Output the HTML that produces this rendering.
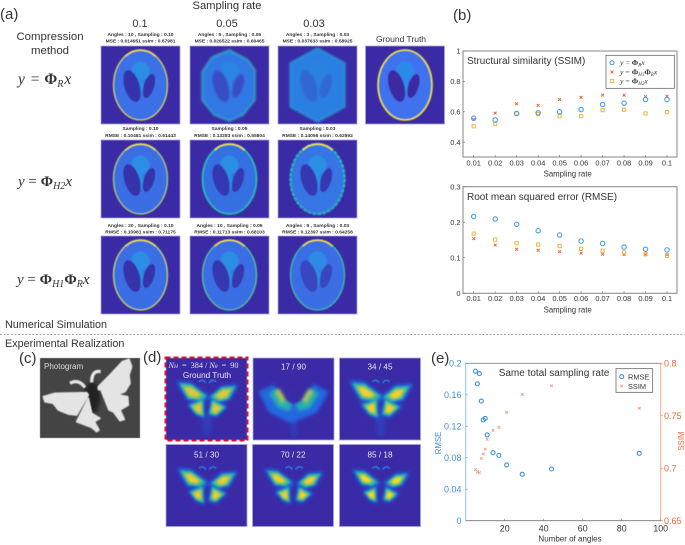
<!DOCTYPE html>
<html>
<head>
<meta charset="utf-8">
<style>
html,body{margin:0;padding:0;background:#fff}
#fig{display:block;filter:blur(.35px)}
text{font-family:"Liberation Sans",sans-serif;fill:#333}
.m{font-family:"Liberation Serif",serif;fill:#333}
</style>
</head>
<body>
<svg id="fig" xmlns="http://www.w3.org/2000/svg" width="685" height="545" viewBox="0 0 685 545">
<defs>
<filter id="b06" x="-30%" y="-30%" width="160%" height="160%"><feGaussianBlur stdDeviation="0.6"/></filter>
<filter id="b1" x="-40%" y="-40%" width="180%" height="180%"><feGaussianBlur stdDeviation="1"/></filter>
<filter id="b2" x="-50%" y="-50%" width="200%" height="200%"><feGaussianBlur stdDeviation="1.8"/></filter>
<filter id="b3" x="-60%" y="-60%" width="220%" height="220%"><feGaussianBlur stdDeviation="2.8"/></filter>
</defs>

<text x="0" y="19" font-size="15">(a)</text>
<text x="453" y="20" font-size="15">(b)</text>
<text x="19" y="363" font-size="15">(c)</text>
<text x="143" y="362" font-size="15">(d)</text>
<text x="431" y="363" font-size="15">(e)</text>

<text x="227" y="9" font-size="11.2" text-anchor="middle">Sampling rate</text>
<text x="140" y="27" font-size="11" text-anchor="middle">0.1</text>
<text x="227" y="27" font-size="11" text-anchor="middle">0.05</text>
<text x="314" y="27" font-size="11" text-anchor="middle">0.03</text>
<text x="50" y="40" font-size="11.4" text-anchor="middle">Compression</text>
<text x="50" y="54" font-size="11.4" text-anchor="middle">method</text>
<text x="401" y="42" font-size="8.5" text-anchor="middle">Ground Truth</text>

<text class="m" x="18" y="84" font-size="15.5"><tspan font-style="italic">y</tspan><tspan dx="2"> = </tspan><tspan dx="1" font-weight="bold">Φ</tspan><tspan font-size="10" dy="3" font-style="italic">R</tspan><tspan dx="1" dy="-3" font-style="italic">x</tspan></text>
<text class="m" x="18" y="186" font-size="15"><tspan font-style="italic">y</tspan> =  <tspan font-weight="bold">Φ</tspan><tspan font-size="10" dy="3" font-style="italic">H2</tspan><tspan dy="-3" font-style="italic">x</tspan></text>
<text class="m" x="17" y="284" font-size="15"><tspan font-style="italic">y</tspan> = <tspan font-weight="bold">Φ</tspan><tspan font-size="10" dy="3" font-style="italic">H1</tspan><tspan dy="-3" font-weight="bold">Φ</tspan><tspan font-size="10" dy="3" font-style="italic">R</tspan><tspan dy="-3" font-style="italic">x</tspan></text>

<g id="phantoms"></g>

<text x="5" y="328" font-size="10.8">Numerical Simulation</text>
<line x1="0" y1="334.5" x2="685" y2="334.5" stroke="#888" stroke-width="0.8" stroke-dasharray="2 1.6"/>
<text x="5" y="347" font-size="10.8">Experimental Realization</text>

<g>
  <rect x="40" y="358" width="100" height="80" fill="#444" stroke="#aaa" stroke-width="0.5"/>
  <ellipse cx="92" cy="398" rx="8" ry="16" fill="#222" filter="url(#b2)"/>
  <g transform="translate(35 350) scale(.3333)" fill="#e4e4e4" stroke="#e4e4e4" stroke-width="5" stroke-linejoin="round" filter="url(#b2)">
    <path d="M190 110L225 75 262 35 282 28 290 50 282 75 285 100 270 125 245 135 190 118Z"/>
    <path d="M200 125L278 140 280 165 255 180 268 208 255 212 235 185 222 180 210 150Z"/>
    <path d="M25 140L60 130 155 128 160 135 125 195 100 192 70 180 55 160 30 155Z"/>
    <path d="M160 145L125 215 170 232 185 245 192 240 178 215 195 205 170 190Z"/>
    <path d="M105 100Q130 85 150 112" fill="none" stroke-width="10"/>
    <path d="M170 97Q170 60 197 65" fill="none" stroke-width="10"/>
  </g>
  <text x="44" y="369" font-size="8" style="fill:#ddd">Photogram</text>
</g>

<g id="butterflies"></g>
<rect x="165.5" y="357.5" width="82" height="83" fill="none" stroke="#e2122e" stroke-width="2" stroke-dasharray="5 3"/>

<g id="chartB1"></g>
<g id="chartB2"></g>
<g id="chartE"></g>
</svg>

<script>
// ---------- chart data ----------
const rateLabels = ['0.01','0.02','0.03','0.04','0.05','0.06','0.07','0.08','0.09','0.1'];
const ssimPhiR  = [0.558,0.547,0.589,0.593,0.600,0.615,0.648,0.657,0.681,0.681];
const ssimPhiH1 = [0.550,0.591,0.653,0.642,0.681,0.695,0.710,0.710,0.700,0.703];
const ssimPhiH2 = [0.505,0.520,0.589,0.585,0.571,0.571,0.611,0.613,0.589,0.598];
const rmsePhiR  = [0.216,0.209,0.194,0.176,0.164,0.147,0.140,0.130,0.124,0.122];
const rmsePhiH1 = [0.154,0.136,0.124,0.121,0.117,0.113,0.110,0.109,0.109,0.109];
const rmsePhiH2 = [0.168,0.151,0.141,0.137,0.133,0.125,0.120,0.115,0.110,0.105];
const ssimTicks = [0.4,0.6,0.8,1];
const rmseTicks = [0,0.1,0.2,0.3];
const angleCounts = [5,6,7,8,9,10,11,14,17,21,29,44,89];
const angleRmse = [0.190,0.174,0.187,0.152,0.128,0.130,0.109,0.0864,0.083,0.0708,0.0589,0.0657,0.0856];
const angleSsim = [0.6986,0.6967,0.6958,0.7094,0.7136,0.7183,0.7275,0.7361,0.739,0.7533,0.7704,0.7787,0.7571];
const angleTicks = [20,40,60,80,100];
const angleRmseTicks = [0,0.04,0.08,0.12,0.16,0.2];
const angleSsimTicks = [0.65,0.7,0.75,0.8];

const NS = 'http://www.w3.org/2000/svg';
const BLUE = '#4a9ee0', RED = '#e8664a', YEL = '#f0b840';

function mk(parent, tag, attrs, text) {
  const e = document.createElementNS(NS, tag);
  for (const k in attrs) e.setAttribute(k, attrs[k]);
  if (text !== undefined) e.textContent = text;
  parent.appendChild(e);
  return e;
}
function named(e, name) {
  
  
  return e;
}
function circle(p, x, y, r, c, name) {
  return named(mk(p, 'circle', {cx:x, cy:y, r:r, fill:'none', stroke:c, 'stroke-width':1.1}), name);
}
function cross(p, x, y, s, c, name) {
  return named(mk(p, 'path', {d:`M${x-s} ${y-s}L${x+s} ${y+s}M${x-s} ${y+s}L${x+s} ${y-s}`, stroke:c, 'stroke-width':1, fill:'none'}), name);
}
function square(p, x, y, s, c, name) {
  return named(mk(p, 'rect', {x:x-s, y:y-s, width:2*s, height:2*s, fill:'none', stroke:c, 'stroke-width':1}), name);
}

// ---------- panel (b) charts ----------
function rateX(i) { return 473.7 + i * 21.48; }
function plotRates(id, yFn, top, bottom, ticks, fmt, title, titleY, xTitleY, labelY, series) {
  const g = document.getElementById(id);
  named(mk(g, 'rect', {x:463, y:top, width:214, height:bottom-top, fill:'none', stroke:'#858585', 'stroke-width':1}), id + '-frame');
  named(mk(g, 'text', {x:467, y:titleY, 'font-size':10}, title), id + '-title');
  ticks.forEach(t => {
    named(mk(g, 'line', {x1:463, x2:465, y1:yFn(t), y2:yFn(t), stroke:'#666', 'stroke-width':.6}), 'y-tick');
    named(mk(g, 'text', {x:460.5, y:yFn(t)+2.7, 'font-size':7.4, 'text-anchor':'end'}, fmt(t)), 'y-tick-label');
  });
  rateLabels.forEach((t, i) => {
    named(mk(g, 'line', {x1:rateX(i), x2:rateX(i), y1:bottom, y2:bottom-2, stroke:'#666', 'stroke-width':.6}), 'x-tick');
    named(mk(g, 'text', {x:rateX(i), y:labelY, 'font-size':7.4, 'text-anchor':'middle'}, t), 'x-tick-label');
  });
  named(mk(g, 'text', {x:567.7, y:xTitleY, 'font-size':7.8, 'text-anchor':'middle'}, 'Sampling rate'), 'x-axis-title');
  series.h1.forEach((v, i) => cross(g, rateX(i), yFn(v), 1.4, RED, 'point-phi-h1'));
  series.h2.forEach((v, i) => square(g, rateX(i), yFn(v), 1.6, YEL, 'point-phi-h2'));
  series.r.forEach((v, i) => circle(g, rateX(i), yFn(v), 2.2, BLUE, 'point-phi-r'));
  return g;
}
function ssimY(v) { return 51 + (1 - v) * 152; }
function rmseY(v) { return 293.3 - v / 0.3 * 106.6; }
const gB1 = plotRates('chartB1', ssimY, 51, 157, ssimTicks, t => String(t), 'Structural similarity (SSIM)', 64, 176.7, 165.7,
  {r:ssimPhiR, h1:ssimPhiH1, h2:ssimPhiH2});
plotRates('chartB2', rmseY, 186.7, 293.3, rmseTicks, t => String(t), 'Root mean squared error (RMSE)', 200, 312.3, 301,
  {r:rmsePhiR, h1:rmsePhiH1, h2:rmsePhiH2});

const lgB = named(mk(gB1, 'g', {}), 'ssim-legend');
mk(lgB, 'rect', {x:606, y:55.3, width:68.3, height:33, fill:'#fff', stroke:'#555', 'stroke-width':.7});
circle(lgB, 612, 62.7, 2, BLUE, 'legend-marker-phi-r');
cross(lgB, 612, 72, 1.4, RED, 'legend-marker-phi-h1');
square(lgB, 612, 81, 1.6, YEL, 'legend-marker-phi-h2');
function legendMath(y, parts, name) {
  const t = named(mk(lgB, 'text', {x:620, y:y, 'font-size':7.8, class:'m'}), name);
  parts.forEach(p => {
    const s = mk(t, 'tspan', p.a || {}, p.t);
    if (p.b) s.setAttribute('font-weight', 'bold');
  });
}
legendMath(65, [{t:'y',a:{'font-style':'italic'}},{t:' = '},{t:'Φ',b:1},{t:'R',a:{'font-size':5,dy:1.5,'font-style':'italic'}},{t:'x',a:{dy:-1.5,'font-style':'italic'}}], 'legend-label-phi-r');
legendMath(74.5, [{t:'y',a:{'font-style':'italic'}},{t:' = '},{t:'Φ',b:1},{t:'H1',a:{'font-size':5,dy:1.5,'font-style':'italic'}},{t:'Φ',b:1,a:{dy:-1.5}},{t:'R',a:{'font-size':5,dy:1.5,'font-style':'italic'}},{t:'x',a:{dy:-1.5,'font-style':'italic'}}], 'legend-label-phi-h1');
legendMath(83.5, [{t:'y',a:{'font-style':'italic'}},{t:' =  '},{t:'Φ',b:1},{t:'H2',a:{'font-size':5,dy:1.5,'font-style':'italic'}},{t:'x',a:{dy:-1.5,'font-style':'italic'}}], 'legend-label-phi-h2');

// ---------- panel (e) chart ----------
function angX(v) { return 465.7 + v * 1.95; }
function angY(v) { return 520.7 - v / 0.2 * 157.4; }
function angY2(v) { return 520.7 - (v - 0.65) / 0.15 * 157.4; }
const gE = document.getElementById('chartE');
const BL2 = '#3f8fd8', OR2 = '#ea6a38';
named(mk(gE, 'line', {x1:465.7, x2:660.7, y1:363.3, y2:363.3, stroke:'#888', 'stroke-width':.8}), 'top-axis');
named(mk(gE, 'line', {x1:465.7, x2:660.7, y1:520.7, y2:520.7, stroke:'#777', 'stroke-width':.8}), 'x-axis');
named(mk(gE, 'line', {x1:465.7, x2:465.7, y1:363.3, y2:520.7, stroke:'#8fc1ea', 'stroke-width':1}), 'left-axis');
named(mk(gE, 'line', {x1:660.7, x2:660.7, y1:363.3, y2:520.7, stroke:'#f2a98a', 'stroke-width':1}), 'right-axis');
angleTicks.forEach(t => {
  named(mk(gE, 'line', {x1:angX(t), x2:angX(t), y1:520.7, y2:518.7, stroke:'#777', 'stroke-width':.6}), 'x-tick');
  named(mk(gE, 'text', {x:angX(t), y:531.7, 'font-size':8.8, 'text-anchor':'middle'}, String(t)), 'x-tick-label');
});
angleRmseTicks.forEach(t => {
  named(mk(gE, 'line', {x1:465.7, x2:467.7, y1:angY(t), y2:angY(t), stroke:BL2, 'stroke-width':.6}), 'rmse-tick');
  named(mk(gE, 'text', {x:461.5, y:angY(t)+3.1, 'font-size':9, 'text-anchor':'end', style:'fill:'+BL2}, String(t)), 'rmse-tick-label');
});
angleSsimTicks.forEach(t => {
  named(mk(gE, 'line', {x1:660.7, x2:662.7, y1:angY2(t), y2:angY2(t), stroke:OR2, 'stroke-width':.6}), 'ssim-tick');
  named(mk(gE, 'text', {x:664, y:angY2(t)+3.1, 'font-size':9, style:'fill:'+OR2}, String(t)), 'ssim-tick-label');
});
named(mk(gE, 'text', {x:570, y:541.7, 'font-size':8, 'text-anchor':'middle'}, 'Number  of angles'), 'x-axis-title');
named(mk(gE, 'text', {x:0, y:0, 'font-size':7.8, 'text-anchor':'middle', transform:'translate(441 443) rotate(-90)', style:'fill:'+BL2}, 'RMSE'), 'rmse-axis-title');
named(mk(gE, 'text', {x:0, y:0, 'font-size':7.8, 'text-anchor':'middle', transform:'translate(684 441) rotate(-90)', style:'fill:'+OR2}, 'SSIM'), 'ssim-axis-title');
named(mk(gE, 'text', {x:554, y:376, 'font-size':10, 'text-anchor':'middle'}, 'Same total sampling rate'), 'angles-chart-title');
angleCounts.forEach((a, i) => {
  cross(gE, angX(a), angY2(angleSsim[i]), 1.3, '#f2a58c', 'point-ssim');
  circle(gE, angX(a), angY(angleRmse[i]), 2, BL2, 'point-rmse');
});
const lgE = named(mk(gE, 'g', {}), 'angles-legend');
mk(lgE, 'rect', {x:616, y:368.7, width:36.7, height:23.6, fill:'#fff', stroke:'#555', 'stroke-width':.7});
circle(lgE, 621.7, 376.7, 2, BL2, 'legend-marker-rmse');
cross(lgE, 621.7, 386, 1.3, '#f2a58c', 'legend-marker-ssim');
named(mk(lgE, 'text', {x:628, y:379.5, 'font-size':7.4}, 'RMSE'), 'legend-label-rmse');
named(mk(lgE, 'text', {x:628, y:389, 'font-size':7.4}, 'SSIM'), 'legend-label-ssim');

// ---------- panel (a) phantoms ----------
const BG = '#3a2aa6';
const gP = document.getElementById('phantoms');
const cellCols = [101, 190, 278];
const cellRows = [46, 140, 236];
const headers = [
  [['Angles : 10 , Sampling : 0.10','MSE : 0.014951  ssim : 0.67981'],['Angles : 5 , Sampling : 0.05','MSE : 0.026522  ssim : 0.60465'],['Angles : 3 , Sampling : 0.03','MSE : 0.037633  ssim : 0.58925']],
  [['Sampling : 0.10','RMSE : 0.10481  ssim : 0.61443'],['Sampling : 0.05','RMSE : 0.13283  ssim : 0.55804'],['Sampling : 0.03','RMSE : 0.14056  ssim : 0.62592']],
  [['Angles : 20 , Sampling : 0.10','RMSE : 0.10981  ssim : 0.71175'],['Angles : 10 , Sampling : 0.05','RMSE : 0.11713  ssim : 0.68103'],['Angles : 9 , Sampling : 0.03','RMSE : 0.12397  ssim : 0.64258']]
];
const headerBase = [[36,42.5],[130,137],[227,233.5]];
const OCT = '39.5,4 58,14 65,24 65,54 53,69 39.5,75 24,69 12,54 12,26 22,11';
const HEX = '39.5,2 67,17 67,61 39.5,76 12,61 12,17';

function phantom(x, y, o) {
  const w = o.w || 79, h = 78;
  const g = named(mk(gP, 'g', {transform:`translate(${x} ${y})`}), o.name);
  mk(g, 'rect', {x:0, y:0, width:w, height:h, fill:BG, stroke:'#a7a2e2', 'stroke-width':.8});
  const cx = w / 2, cy = 39;
  const blur = o.blur || 'b06';
  const inner = named(mk(g, 'g', {filter:`url(#${blur})`}), o.name + '-shape');
  if (o.poly) {
    mk(inner, 'polygon', {points:o.poly, fill:o.fill, stroke:o.stroke, 'stroke-width':o.sw || 1.3});
  } else {
    mk(inner, 'ellipse', {cx:cx, cy:cy, rx:27, ry:35, fill:o.fill, stroke:o.stroke, 'stroke-width':o.sw || 1.3, 'stroke-dasharray':o.dash || 'none'});
    if (o.top) mk(inner, 'path', {d:`M${cx-15} ${cy-29}A27 35 0 0 1 ${cx+15} ${cy-29}`, fill:'none', stroke:'#f0e030', 'stroke-width':1.6});
  }
  const blob = o.blobC, vent = o.vent;
  mk(inner, 'ellipse', {cx:cx, cy:cy-14, rx:9, ry:9.5, fill:blob, opacity:o.op || 1});
  mk(inner, 'ellipse', {cx:cx, cy:cy+2, rx:3, ry:9, fill:blob, opacity:o.op || 1});
  mk(inner, 'ellipse', {cx:cx-8.5, cy:cy+1, rx:o.vl || 7.6, ry:16.5, fill:vent, transform:`rotate(-17 ${cx-8.5} ${cy+1})`, opacity:o.op || 1});
  mk(inner, 'ellipse', {cx:cx+8.5, cy:cy+1, rx:o.vr || 5.2, ry:12.5, fill:vent, transform:`rotate(17 ${cx+8.5} ${cy+1})`, opacity:o.op || 1});
  return g;
}
const cfgs = [
  [{fill:'#3a70e6', stroke:'#c8d040', blobC:'#2c8ee4', vent:'#3532aa', top:true},
   {fill:'#3078e4', stroke:'#30b8b0', blobC:'#2a8ae4', vent:'#3a42bc', poly:OCT, blur:'b1', op:.8},
   {fill:'#2c80e2', stroke:'#28a8c8', blobC:'#2c84df', vent:'#3850c4', poly:HEX, blur:'b1', sw:1, op:.55}],
  [{fill:'#3a6ee4', stroke:'#a8c860', blobC:'#2c8ee4', vent:'#3532aa', top:true},
   {fill:'#3570e2', stroke:'#2cb8b0', blobC:'#2c8ee4', vent:'#3539b2', top:true, sw:1.8},
   {fill:'#3574e4', stroke:'#2cb0b8', blobC:'#2a90e4', vent:'#3539b2', top:true, sw:2.4, dash:'4 1'}],
  [{fill:'#3a6ee4', stroke:'#c0d050', blobC:'#2c8ee4', vent:'#3532aa', top:true},
   {fill:'#3a6ee4', stroke:'#58c090', blobC:'#2c8ee4', vent:'#3538b0', top:true},
   {fill:'#3a6ee4', stroke:'#40b8a0', blobC:'#2c8ee4', vent:'#3842ba', top:true, op:.9}]
];
cellRows.forEach((ry, r) => {
  cellCols.forEach((cx, c) => {
    const o = Object.assign({name:`phantom-r${r+1}-c${c+1}`}, cfgs[r][c]);
    phantom(cx, ry, o);
    const center = cx + 39.5;
    headers[r][c].forEach((line, k) => {
      const t = mk(gP, 'text', {x:center, y:headerBase[r][k], 'font-size':4.9, 'font-weight':'bold', 'text-anchor':'middle'}, line);
      named(t, 'phantom-caption');
    });
  });
});
phantom(365.5, 46, {name:'phantom-ground-truth', fill:'#4072f0', stroke:'#f0e418', sw:1.6, blobC:'#2a8ae8', vent:'#3a2ca2', w:79});

// ---------- panel (d) butterflies ----------
const gF = document.getElementById('butterflies');
const wings = [
  [[13,25],[25,26],[41,38],[35,43],[22,41],[17,33]],
  [[70,28],[56,29],[44,39],[52,44],[63,41]],
  [[37,41],[23,47],[30,56],[38,59]],
  [[46,41],[60,49],[50,58],[43,56]]
];
function scalePts(pts, s) {
  const cx = pts.reduce((a, p) => a + p[0], 0) / pts.length;
  const cy = pts.reduce((a, p) => a + p[1], 0) / pts.length;
  return pts.map(p => `${cx + (p[0]-cx)*s},${cy + (p[1]-cy)*s}`).join(' ');
}
function butterflyCell(x, y, label, o) {
  const g = named(mk(gF, 'g', {transform:`translate(${x} ${y})`}), o.name);
  mk(g, 'rect', {x:0, y:0, width:81, height:82, fill:BG, stroke:'#a7a2e2', 'stroke-width':.8});
  const layers = [[o.o, '#1f6ae2', 'b2'], [o.m, '#25b0b0', 'b1'], [(o.m + o.i) / 2, '#7cc070', 'b1'], [o.i, o.core, 'b1']];
  if (o.tail) {
    named(mk(g, 'ellipse', {cx:41, cy:67, rx:5, ry:12, fill:'#2c4cc4', opacity:.55, filter:'url(#b2)'}), o.name + '-tail');
  }
  layers.forEach(l => {
    wings.forEach(w => {
      mk(g, 'polygon', {points:scalePts(w, l[0]), fill:l[1], filter:`url(#${l[2]})`});
    });
  });
  mk(g, 'path', {d:'M33 24Q36 20 40 25M43 25Q47 20 50 24', fill:'none', stroke:'#2a80e0', 'stroke-width':1.4, filter:'url(#b06)'});
  if (label) named(mk(g, 'text', {x:40.5, y:o.ly || 11.5, 'font-size':8.2, 'text-anchor':'middle', style:'fill:#e6e6ee'}, label), o.name + '-label');
  return g;
}
const gt = butterflyCell(166, 358, null, {name:'butterfly-ground-truth', o:1.18, m:.98, i:.55, core:'#dcc83c', tail:true});
const tN = named(mk(gt, 'text', {x:2.5, y:10, 'font-size':8.2, class:'m', style:'fill:#e6e6ee'}), 'butterfly-ground-truth-label');
[['N','italic',8.2],['H','italic',5.4],['  =  384 / ','normal',8.2],['N','italic',8.2],['θ','italic',5.4],['  =  90','normal',8.2]].forEach(p => {
  const ts = mk(tN, 'tspan', {'font-style':p[1], 'font-size':p[2]}, p[0]);
  ts.style.whiteSpace = 'pre';
});
named(mk(gt, 'text', {x:41, y:20, 'font-size':8.2, 'text-anchor':'middle', style:'fill:#e6e6ee'}, 'Ground  Truth'), 'butterfly-ground-truth-subtitle');

// 17/90: broad U-shaped blur
(function () {
  const g = named(mk(gF, 'g', {transform:'translate(253 358)'}), 'butterfly-17-90');
  mk(g, 'rect', {x:0, y:0, width:81, height:82, fill:BG, stroke:'#a7a2e2', 'stroke-width':.8});
  mk(g, 'ellipse', {cx:41, cy:70, rx:3, ry:10, fill:'#2c50c8', opacity:.6, filter:'url(#b2)'});
  mk(g, 'path', {d:'M13 30L22 48 38 56 58 48 68 30', fill:'none', stroke:'#2268e0', 'stroke-width':17, filter:'url(#b2)', 'stroke-linejoin':'round'});
  mk(g, 'path', {d:'M20 33L28 46 38 49M62 33L54 46 44 49', fill:'none', stroke:'#26b0ae', 'stroke-width':9, filter:'url(#b2)'});
  mk(g, 'path', {d:'M24 32L31 44M58 32L51 44', fill:'none', stroke:'#b8c850', 'stroke-width':5, filter:'url(#b2)'});
  mk(g, 'ellipse', {cx:41, cy:37, rx:7, ry:8, fill:BG, filter:'url(#b1)'});
  named(mk(g, 'text', {x:40.5, y:11.5, 'font-size':8.2, 'text-anchor':'middle', style:'fill:#e6e6ee'}, '17 / 90'), 'butterfly-17-90-label');
})();
butterflyCell(339.5, 358, '34 / 45', {name:'butterfly-34-45', o:1.28, m:1.02, i:.55, core:'#f0d030', tail:true});
butterflyCell(166, 444.5, '51 / 30', {name:'butterfly-51-30', o:1.15, m:.92, i:.5, core:'#e8cc38', ly:13});
butterflyCell(252.5, 444.5, '70 / 22', {name:'butterfly-70-22', o:1.08, m:.86, i:.46, core:'#f0d030', ly:13});
butterflyCell(339.5, 444.5, '85 / 18', {name:'butterfly-85-18', o:1.02, m:.8, i:.42, core:'#f4dc28', ly:13});
</script>
</body>
</html>
